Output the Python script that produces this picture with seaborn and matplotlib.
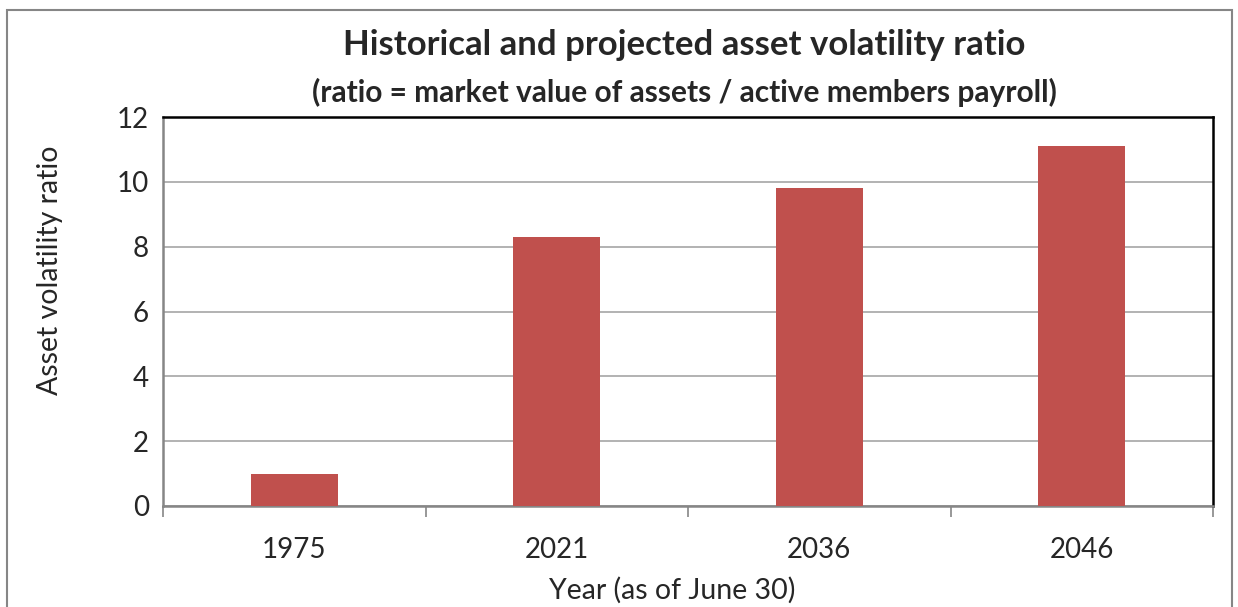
import matplotlib
matplotlib.use("Agg")
import matplotlib.pyplot as plt
import seaborn as sns
import pandas as pd
from matplotlib.patches import Rectangle

years = ["1975", "2021", "2036", "2046"]
ratios = [1.0, 8.3, 9.8, 11.1]
y_ticks = [0, 2, 4, 6, 8, 10, 12]

sns.set_style("white")
plt.rcParams['font.family'] = ['Lato', 'DejaVu Sans']

df = pd.DataFrame({"year": years, "ratio": ratios})

fig = plt.figure(figsize=(12.38, 6.07), dpi=100)
ax = fig.add_axes([163 / 1238, 1 - 506 / 607, 1050 / 1238, 389 / 607])

sns.barplot(data=df, x="year", y="ratio", color="#C0504D", width=0.33,
            saturation=1, linewidth=0, ax=ax, zorder=3)

ax.set_ylim(0, 12)
ax.set_xlim(-0.5, 3.5)
ax.set_yticks(y_ticks)
ax.yaxis.grid(True, color="#A6A6A6", linewidth=1.2, zorder=0)
ax.set_axisbelow(True)
ax.tick_params(axis="y", labelsize=20, length=0, pad=10)
ax.tick_params(axis="x", labelsize=20, length=0, pad=22)

# ticks between categories
ax.set_xticks([-0.5, 0.5, 1.5, 2.5, 3.5], minor=True)
ax.tick_params(axis="x", which="minor", bottom=True, length=8,
               color="#868686", width=1.2)

for side in ["left", "bottom"]:
    ax.spines[side].set_color("#868686")
    ax.spines[side].set_linewidth(1.8)
for side in ["top", "right"]:
    ax.spines[side].set_color("black")
    ax.spines[side].set_linewidth(1.8)

ax.set_xlabel("Year (as of June 30)", fontsize=20.5)
ax.set_ylabel("Asset volatility ratio", fontsize=20.5)
ax.xaxis.set_label_coords(0.485, -0.216)
ax.yaxis.set_label_coords(-0.108, 0.607)
ax.xaxis.label.set_va("center")
ax.yaxis.label.set_va("center")

fig.text(0.553, 0.926, "Historical and projected asset volatility ratio",
         ha="center", va="center", fontsize=25, fontweight="bold")
fig.text(0.553, 0.848, "(ratio = market value of assets / active members payroll)",
         ha="center", va="center", fontsize=21.5, fontweight="bold")

fig.patches.append(Rectangle((7 / 1238, -0.05), 1225 / 1238, 1 - 10 / 607 + 0.05,
                             transform=fig.transFigure, fill=False,
                             edgecolor="#868686", linewidth=1.5))

fig.savefig("out.png", dpi=100, facecolor="white")
